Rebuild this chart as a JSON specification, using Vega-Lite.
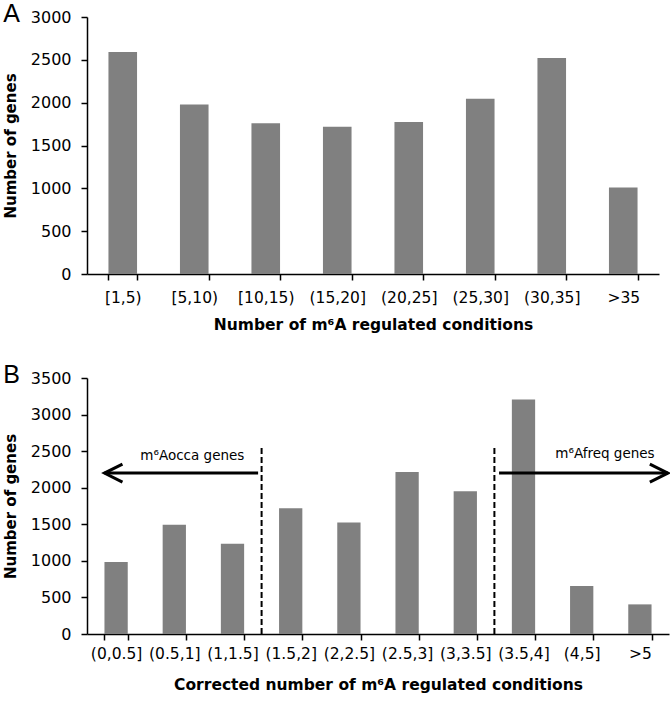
{
  "$schema": "https://vega.github.io/schema/vega-lite/v6.json",
  "padding": {"left": 3, "top": 2, "right": 0, "bottom": 0},
  "background": "white",
  "config": {
    "view": {"stroke": null},
    "axis": {
      "domainColor": "black", "tickColor": "black", "labelColor": "black", "titleColor": "black",
      "grid": false, "labelFont": "DejaVu Sans", "labelFontSize": 15.5, "labelOverlap": false,
      "titleFont": "DejaVu Sans", "titleFontSize": 15.5, "titleFontWeight": "bold",
      "domainWidth": 1.5, "tickWidth": 1.5, "tickSize": 6
    },
    "axisY": {"labelPadding": 10, "titlePadding": 12, "titleFontSize": 15, "labelFontSize": 16, "format": "d"}
  },
  "datasets": {
    "a": [
      {"bin": "[1,5)", "genes": 2590},
      {"bin": "[5,10)", "genes": 1980},
      {"bin": "[10,15)", "genes": 1760},
      {"bin": "(15,20]", "genes": 1720},
      {"bin": "(20,25]", "genes": 1775},
      {"bin": "(25,30]", "genes": 2045},
      {"bin": "(30,35]", "genes": 2520},
      {"bin": ">35", "genes": 1010}
    ],
    "b": [
      {"bin": "(0,0.5]", "genes": 985},
      {"bin": "(0.5,1]", "genes": 1495},
      {"bin": "(1,1.5]", "genes": 1235},
      {"bin": "(1.5,2]", "genes": 1720},
      {"bin": "(2,2.5]", "genes": 1525},
      {"bin": "(2.5,3]", "genes": 2215},
      {"bin": "(3,3.5]", "genes": 1950},
      {"bin": "(3.5,4]", "genes": 3205},
      {"bin": "(4,5]", "genes": 655},
      {"bin": ">5", "genes": 405}
    ],
    "cuts": [
      {"pos": 3, "y0": 0, "y1": 2550},
      {"pos": 7, "y0": 0, "y1": 2550}
    ],
    "arrows": [
      {"from": 2.94, "to": 0.3, "y": 2200},
      {"from": 7.08, "to": 9.98, "y": 2200}
    ],
    "heads": [
      {"pos": 0.3, "y": 2200, "dir": "left"},
      {"pos": 9.98, "y": 2200, "dir": "right"}
    ],
    "labels": [
      {"pos": 1.81, "y": 2434, "label": "m⁶Aocca genes"},
      {"pos": 8.9, "y": 2466, "label": "m⁶Afreq genes"}
    ]
  },
  "spacing": 30,
  "vconcat": [
    {
      "title": {"text": "A", "anchor": "start", "frame": "bounds", "font": "Liberation Sans", "fontSize": 25, "fontWeight": "normal", "color": "black", "offset": 0, "dy": 18},
      "width": 572,
      "height": 257,
      "data": {"name": "a"},
      "mark": {"type": "bar", "color": "#808080"},
      "encoding": {
        "x": {
          "field": "bin", "type": "nominal", "sort": null,
          "scale": {"paddingInner": 0.6, "paddingOuter": 0.3},
          "axis": {"labelAngle": 0, "tickBand": "extent", "labelPadding": 10, "titlePadding": 12, "title": "Number of m⁶A regulated conditions"}
        },
        "y": {
          "field": "genes", "type": "quantitative",
          "scale": {"domain": [0, 3000]},
          "axis": {"values": [0, 500, 1000, 1500, 2000, 2500, 3000], "title": "Number of genes"}
        }
      }
    },
    {
      "title": {"text": "B", "anchor": "start", "frame": "bounds", "font": "Liberation Sans", "fontSize": 25, "fontWeight": "normal", "color": "black", "offset": 0, "dy": 18},
      "width": 582,
      "height": 256,
      "resolve": {"scale": {"x": "independent"}, "axis": {"x": "independent"}},
      "layer": [
        {
          "data": {"name": "b"},
          "mark": {"type": "bar", "color": "#808080"},
          "encoding": {
            "x": {
              "field": "bin", "type": "nominal", "sort": null,
              "scale": {"paddingInner": 0.6, "paddingOuter": 0.3},
              "axis": {"labelAngle": 0, "tickBand": "extent", "labelPadding": 6, "titlePadding": 16, "title": "Corrected number of m⁶A regulated conditions", "orient": "bottom"}
            },
            "y": {
              "field": "genes", "type": "quantitative",
              "scale": {"domain": [0, 3500]},
              "axis": {"values": [0, 500, 1000, 1500, 2000, 2500, 3000, 3500], "title": "Number of genes"}
            }
          }
        },
        {
          "data": {"name": "cuts"},
          "mark": {"type": "rule", "color": "black", "strokeWidth": 2, "strokeDash": [6, 3]},
          "encoding": {
            "x": {"field": "pos", "type": "quantitative", "scale": {"domain": [0, 10], "nice": false, "zero": false}, "axis": null},
            "y": {"field": "y0", "type": "quantitative", "axis": {"values": [0, 500, 1000, 1500, 2000, 2500, 3000, 3500], "title": "Number of genes"}},
            "y2": {"field": "y1"}
          }
        },
        {
          "data": {"name": "arrows"},
          "mark": {"type": "rule", "color": "black", "strokeWidth": 3},
          "encoding": {
            "x": {"field": "from", "type": "quantitative", "scale": {"domain": [0, 10], "nice": false, "zero": false}, "axis": null},
            "x2": {"field": "to"},
            "y": {"field": "y", "type": "quantitative", "axis": {"values": [0, 500, 1000, 1500, 2000, 2500, 3000, 3500], "title": "Number of genes"}}
          }
        },
        {
          "data": {"name": "heads"},
          "transform": [{"filter": "datum.dir === 'left'"}],
          "mark": {"type": "point", "shape": "M2,-1L0,0L2,1", "size": 324, "filled": false, "color": "black", "strokeWidth": 3, "opacity": 1},
          "encoding": {
            "x": {"field": "pos", "type": "quantitative", "scale": {"domain": [0, 10], "nice": false, "zero": false}, "axis": null},
            "y": {"field": "y", "type": "quantitative", "axis": {"values": [0, 500, 1000, 1500, 2000, 2500, 3000, 3500], "title": "Number of genes"}}
          }
        },
        {
          "data": {"name": "heads"},
          "transform": [{"filter": "datum.dir === 'right'"}],
          "mark": {"type": "point", "shape": "M-2,-1L0,0L-2,1", "size": 324, "filled": false, "color": "black", "strokeWidth": 3, "opacity": 1},
          "encoding": {
            "x": {"field": "pos", "type": "quantitative", "scale": {"domain": [0, 10], "nice": false, "zero": false}, "axis": null},
            "y": {"field": "y", "type": "quantitative", "axis": {"values": [0, 500, 1000, 1500, 2000, 2500, 3000, 3500], "title": "Number of genes"}}
          }
        },
        {
          "data": {"name": "labels"},
          "mark": {"type": "text", "font": "DejaVu Sans", "fontSize": 13.5, "color": "black", "align": "center", "baseline": "middle"},
          "encoding": {
            "x": {"field": "pos", "type": "quantitative", "scale": {"domain": [0, 10], "nice": false, "zero": false}, "axis": null},
            "y": {"field": "y", "type": "quantitative", "axis": {"values": [0, 500, 1000, 1500, 2000, 2500, 3000, 3500], "title": "Number of genes"}},
            "text": {"field": "label"}
          }
        }
      ]
    }
  ]
}
